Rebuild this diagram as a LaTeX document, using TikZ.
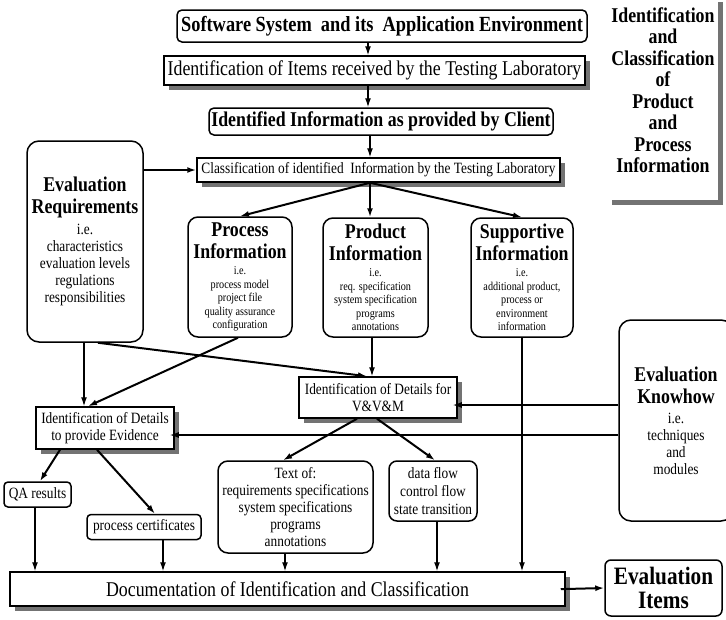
\documentclass[tikz,border=0pt]{standalone}
\usepackage{fontspec}
\setmainfont{Liberation Serif}[FakeStretch=0.85]
\usetikzlibrary{arrows.meta,shadows}

% text sizes used in the chart
\newcommand\hdtx{\fontsize{21}{22}\selectfont\bfseries}
\newcommand\bgtx{\fontsize{21}{22}\selectfont}
\newcommand\mdtx{\fontsize{15.7}{17}\selectfont}
\newcommand\smtx{\fontsize{12}{13.5}\selectfont}
\AtBeginDocument{\lineskiplimit=-1000pt}

\begin{document}
\begin{tikzpicture}[x=1pt,y=-1pt,
  box/.style={draw, line width=1.5pt, fill=white, inner sep=0pt, align=center},
  rbox/.style={box, rounded corners=#1},
  rbox/.default=6pt,
  sbox/.style={box, drop shadow={shadow xshift=5pt, shadow yshift=-5pt, fill=black!55, opacity=1}},
  tip/.style={-{Latex[length=9pt,width=6pt]}},
  heavy/.style={tip, line width=2pt},
  light/.style={tip, line width=1.3pt}
]
\path[use as bounding box, fill=white] (0,0) rectangle (726,619);

% ---- top chain ----
\node[rbox=5pt, font=\fontsize{21.6}{22}\selectfont\bfseries, minimum width=410, minimum height=32] (sw) at (382,26)
  {Software System\ \ and its\ \ Application Environment};
\node[sbox, font=\bgtx, minimum width=421, minimum height=29] (items) at (374.5,70.5)
  {Identification of Items received by the Testing Laboratory};
\node[rbox=5pt, font=\hdtx, minimum width=344, minimum height=27] (ident) at (381,121.5)
  {Identified Information as provided by Client};
\node[sbox, font=\mdtx, minimum width=363, minimum height=24] (classif) at (378.5,170)
  {Classification of identified\ \ Information by the Testing Laboratory};

% ---- information classes ----
\node[rbox=12pt, font=\mdtx, minimum width=116, minimum height=201] (evreq) at (85,241.5)
  {\hdtx Evaluation\\[5pt]\hdtx Requirements\\[4pt]i.e.\\characteristics\\evaluation levels\\regulations\\responsibilities};
\node[rbox=10pt, font=\smtx, minimum width=104, minimum height=120] (proc) at (240,277)
  {\hdtx Process\\[8.5pt]\hdtx Information\\[2.5pt]i.e.\\process model\\project file\\quality assurance\\configuration};
\node[rbox=10pt, font=\smtx, minimum width=105, minimum height=119] (prod) at (375.5,277.5)
  {\hdtx Product\\[8.5pt]\hdtx Information\\[2.5pt]i.e.\\req. specification\\system specification\\programs\\annotations};
\node[rbox=10pt, font=\smtx, minimum width=102, minimum height=119] (supp) at (522,277.5)
  {\hdtx Supportive\\[8.5pt]\hdtx Information\\[2.5pt]i.e.\\additional product,\\process or\\environment\\information};

% ---- detail identification ----
\node[sbox, font=\mdtx, minimum width=158, minimum height=41] (vvm) at (378,397.5)
  {Identification of Details for\\V\&V\&M};
\node[sbox, font=\mdtx, minimum width=138, minimum height=42] (evid) at (105,428)
  {Identification of Details\\to provide Evidence};

\begin{scope}
  \clip (0,0) rectangle (726,619);
  % side title
  \node[fill=white, inner sep=0pt, minimum width=111, minimum height=203,
        drop shadow={shadow xshift=5pt, shadow yshift=-5pt, fill=black!55, opacity=1}] (tbox) at (662.5,98.5) {};
  \node[font=\fontsize{21}{21.5}\selectfont\bfseries, align=center, inner sep=0pt] (ttl) at (663,90)
    {Identification\\and\\Classification\\of\\Product\\and\\Process\\Information};
  % know-how box
  \node[rbox=12pt, font=\mdtx, minimum width=114, minimum height=201] (know) at (676,420.5)
    {\hdtx Evaluation\\[5pt]\hdtx Knowhow\\[3pt]i.e.\\techniques\\and\\modules};
\end{scope}

% ---- results ----
\node[rbox=4pt, font=\mdtx, minimum width=67, minimum height=25] (qa) at (37.5,494.5) {QA results};
\node[rbox=4pt, font=\mdtx, minimum width=114, minimum height=25] (cert) at (144,527) {process certificates};
\node[rbox=10pt, font=\mdtx, minimum width=155, minimum height=92] (textof) at (295.5,507)
  {Text of:\\requirements specifications\\system specifications\\programs\\annotations};
\node[rbox=8pt, font=\mdtx, minimum width=88, minimum height=60] (dflow) at (433,491)
  {data flow\\[1pt]control flow\\[1pt]state transition};
\node[sbox, font=\bgtx, minimum width=555, minimum height=34] (doc) at (287.5,589)
  {Documentation of Identification and Classification};
\node[rbox=6pt, font=\fontsize{25}{24.5}\selectfont\bfseries, minimum width=117, minimum height=56] (evitems) at (663.5,588)
  {Evaluation\\Items};

% ---- connectors ----
\coordinate (cx) at (368,0);
\coordinate (fan) at (370,0);
\draw[light] (sw.south -| cx) -- (items.north -| cx);
\draw[light] (items.south -| cx) -- (ident.north -| cx);
\draw[light] (ident.south -| fan) -- (classif.north -| fan);
\draw[heavy] (evreq.east |- classif.west) -- (classif.west);

\draw[heavy] (classif.south -| fan) -- (proc.north);
\draw[heavy] (classif.south -| fan) -- (prod.north -| fan);
\draw[heavy] (classif.south -| fan) -- (supp.north);

\draw[light] (evreq.south -| 84,0) -- (evid.north -| 84,0);
\draw[heavy] (evreq.south -| 98,0) -- (vvm.north -| 367,0);
\draw[heavy] (proc.south -| 238,0) -- (evid.north -| 88,0);
\draw[light] (prod.south -| 372,0) -- (vvm.north -| 372,0);

\draw[light, shorten >=-5pt] (know.west |- 0,405) -- (vvm.east |- 0,405);
\draw[light, shorten >=-5pt] (know.west |- 0,435) -- (evid.east |- 0,435);

\draw[heavy] (evid.south -| 60,0) -- (qa.north -| 40,0);
\draw[heavy] (evid.south -| 97,0) -- (cert.north -| 155,0);
\draw[heavy] (vvm.south -| 357,0) -- (textof.north -| 283,0);
\draw[heavy] (vvm.south -| 377,0) -- (dflow.north -| 435,0);

\draw[light] (qa.south -| 35,0) -- (doc.north -| 35,0);
\draw[light] (cert.south -| 163,0) -- (doc.north -| 163,0);
\draw[light] (textof.south -| 285,0) -- (doc.north -| 285,0);
\draw[light] (dflow.south -| 437,0) -- (doc.north -| 437,0);
\draw[light] (supp.south) -- (doc.north -| supp.south);
\draw[heavy, shorten <=-5pt] (doc.east) -- (evitems.west);
\end{tikzpicture}
\end{document}
